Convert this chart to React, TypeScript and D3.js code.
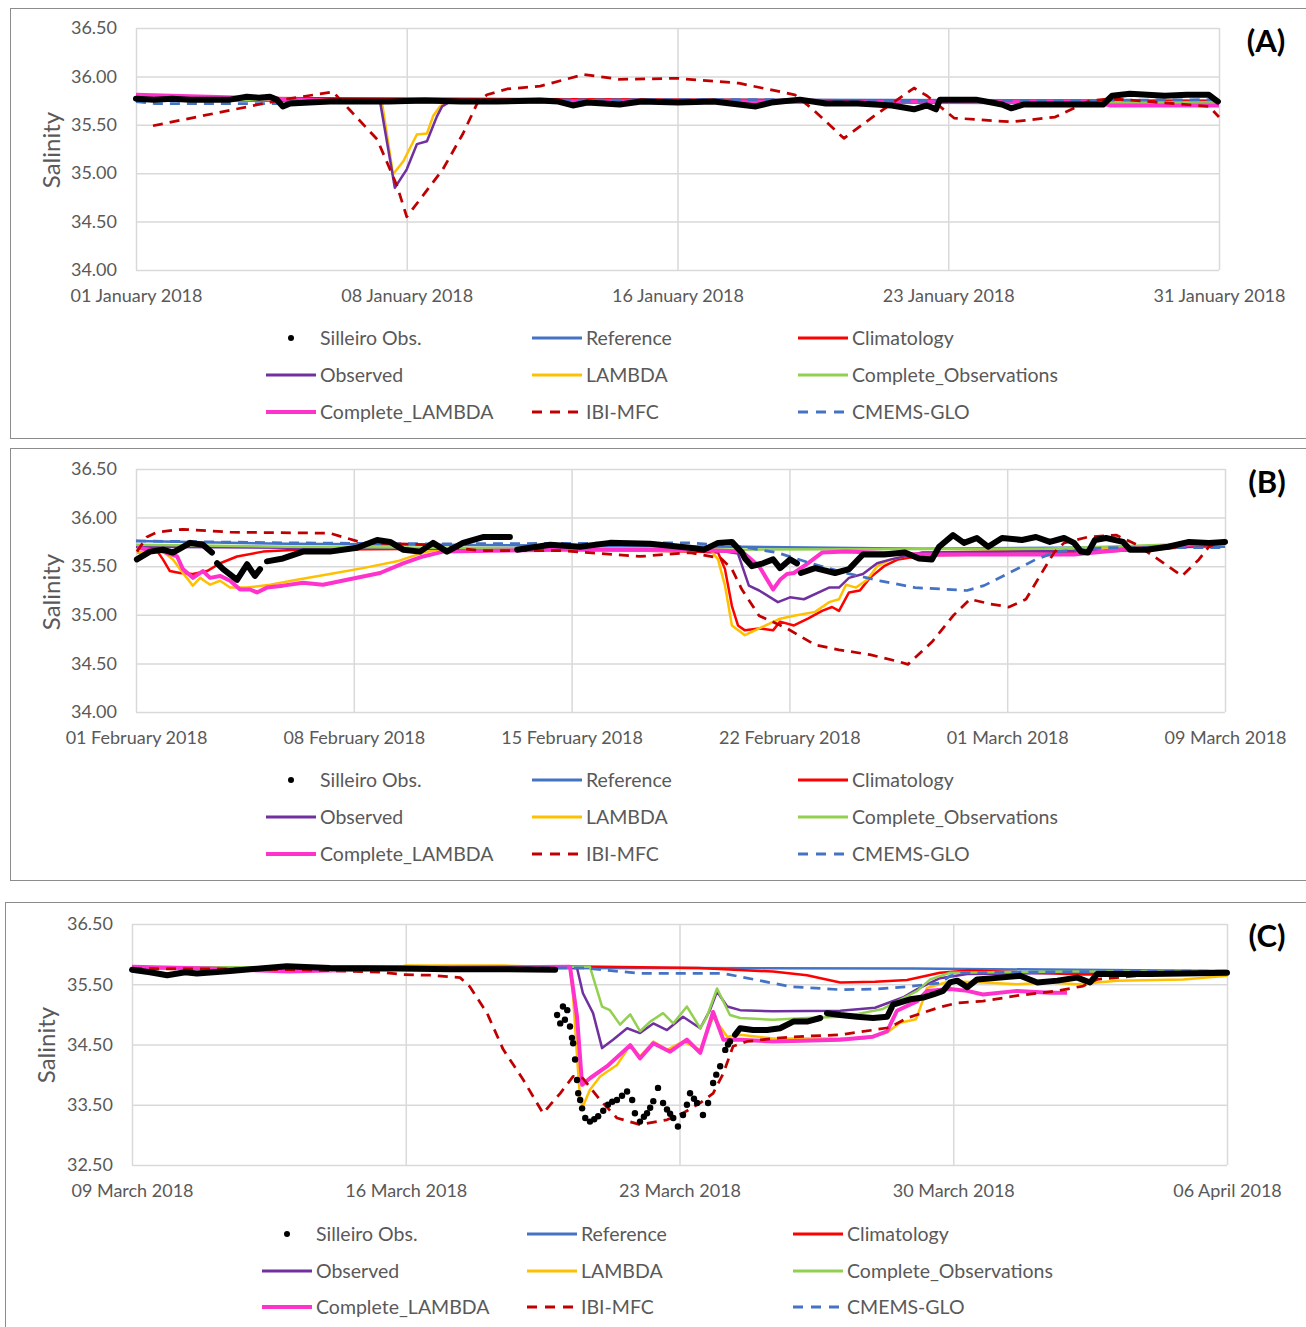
import React, { useEffect, useRef } from 'react'
import * as d3 from 'd3'

type Pt = [number, number | null]

const FONT = 'Lato, "Open Sans", sans-serif'

// ---------- panel A : January 2018 (x = days from 01 Jan) ----------
const ticksA = ['01 January 2018', '08 January 2018', '16 January 2018', '23 January 2018', '31 January 2018']

const obsA: Pt[] = [[0, 35.77], [0.5, 35.76], [1, 35.77], [1.5, 35.76], [2, 35.76], [2.6, 35.76], [3.07, 35.79], [3.4, 35.78], [3.71, 35.79], [3.9, 35.76], [4.07, 35.69], [4.27, 35.72], [4.8, 35.73], [5.37, 35.74], [6, 35.74], [7, 35.74], [8, 35.75], [9, 35.74], [10, 35.74], [11.19, 35.75], [11.7, 35.74], [12.1, 35.70], [12.5, 35.73], [13.4, 35.71], [14, 35.74], [15, 35.73], [16, 35.74], [17.17, 35.69], [17.6, 35.73], [18.39, 35.76], [19.11, 35.72], [20, 35.72], [20.94, 35.70], [21.55, 35.66], [21.91, 35.70], [22.16, 35.66], [22.27, 35.76], [23.27, 35.76], [23.99, 35.71], [24.24, 35.67], [24.6, 35.71], [25.5, 35.71], [26.79, 35.71], [27.04, 35.80], [27.53, 35.82], [28.5, 35.80], [29.11, 35.81], [29.72, 35.81], [29.97, 35.74]]
const referenceA: Pt[] = [[0, 35.77], [15, 35.76], [30, 35.75]]
const climatologyA: Pt[] = [[0, 35.78], [30, 35.74]]
const observedA: Pt[] = [[0, 35.76], [6.76, 35.74], [7.17, 34.85], [7.5, 35.04], [7.78, 35.30], [8.06, 35.33], [8.34, 35.59], [8.48, 35.69], [8.7, 35.74], [30, 35.72]]
const lambdaA: Pt[] = [[0, 35.76], [6.81, 35.74], [7.12, 34.99], [7.4, 35.12], [7.78, 35.40], [8.06, 35.41], [8.23, 35.59], [8.42, 35.69], [8.6, 35.74], [30, 35.73]]
const completeObsA: Pt[] = [[0, 35.76], [26, 35.73], [30, 35.72]]
const completeLambdaA: Pt[] = [[0, 35.81], [3, 35.78], [6, 35.74], [26.5, 35.74], [27, 35.70], [30, 35.70]]
const ibiA: Pt[] = [[0.47, 35.49], [4.07, 35.76], [5.46, 35.84], [5.93, 35.65], [6.68, 35.35], [7.23, 34.87], [7.5, 34.55], [7.87, 34.73], [8.5, 35.04], [9.06, 35.41], [9.45, 35.72], [9.72, 35.81], [10.28, 35.87], [11.2, 35.90], [12.41, 36.02], [13.38, 35.97], [15, 35.98], [16.7, 35.93], [18.25, 35.81], [18.75, 35.66], [19.61, 35.36], [20.44, 35.59], [21.55, 35.88], [21.91, 35.80], [22.66, 35.57], [24.24, 35.53], [25.46, 35.58], [26.42, 35.75], [27.04, 35.77], [29.72, 35.69], [30, 35.58]]
const cmemsA: Pt[] = [[0, 35.74], [0.5, 35.72], [4, 35.72], [4.5, 35.75], [15, 35.76], [18, 35.76], [20, 35.74], [30, 35.76]]

// ---------- panel B : 01 Feb - 09 Mar 2018 ----------
const ticksB = ['01 February 2018', '08 February 2018', '15 February 2018', '22 February 2018', '01 March 2018', '09 March 2018']

const obsB: Pt[] = [[0.03, 35.57], [0.46, 35.65], [0.89, 35.67], [1.22, 35.64], [1.79, 35.74], [2.21, 35.72], [2.51, 35.64], [2.6, null], [2.68, 35.53], [2.88, 35.47], [3.34, 35.36], [3.67, 35.52], [3.93, 35.40], [4.1, 35.47], [4.2, null], [4.33, 35.55], [4.86, 35.58], [5.52, 35.65], [6.41, 35.65], [7.31, 35.69], [7.97, 35.77], [8.4, 35.75], [8.83, 35.67], [9.39, 35.65], [9.82, 35.74], [10.28, 35.65], [10.81, 35.74], [11.47, 35.80], [12.36, 35.80], [12.5, null], [12.6, 35.67], [13.69, 35.72], [14.68, 35.70], [15.67, 35.74], [16.99, 35.73], [18.31, 35.69], [18.78, 35.67], [19.24, 35.74], [19.7, 35.75], [20.03, 35.64], [20.13, 35.58], [20.36, 35.50], [20.73, 35.53], [21.06, 35.57], [21.29, 35.48], [21.62, 35.57], [21.85, 35.53], [21.9, null], [21.98, 35.43], [22.45, 35.48], [23.11, 35.43], [23.57, 35.47], [24.03, 35.62], [24.73, 35.62], [25.42, 35.64], [25.88, 35.58], [26.31, 35.57], [26.55, 35.70], [27.01, 35.82], [27.37, 35.74], [27.8, 35.79], [28.17, 35.70], [28.63, 35.79], [29.29, 35.77], [29.75, 35.80], [30.21, 35.75], [30.68, 35.79], [31.01, 35.74], [31.24, 35.65], [31.47, 35.64], [31.7, 35.77], [32.07, 35.79], [32.63, 35.75], [32.86, 35.67], [33.42, 35.67], [34.12, 35.70], [34.81, 35.75], [35.47, 35.74], [36, 35.75]]
const referenceB: Pt[] = [[0, 35.76], [5, 35.73], [10, 35.72], [20, 35.70], [26, 35.68], [36, 35.70]]
const climatologyB: Pt[] = [[0.03, 35.64], [0.69, 35.66], [0.89, 35.57], [1.12, 35.45], [1.45, 35.43], [1.88, 35.42], [2.35, 35.45], [2.78, 35.53], [3.34, 35.60], [4.2, 35.65], [5.32, 35.67], [10, 35.68], [15, 35.67], [18.31, 35.65], [19.24, 35.64], [19.47, 35.47], [19.7, 35.09], [19.9, 34.89], [20.13, 34.84], [20.6, 34.86], [21.06, 34.84], [21.29, 34.93], [21.75, 34.89], [22.21, 34.96], [22.68, 35.04], [23.01, 35.08], [23.24, 35.04], [23.57, 35.23], [23.93, 35.25], [24.26, 35.38], [24.73, 35.50], [25.19, 35.57], [26, 35.61], [28, 35.62], [30, 35.63], [32, 35.65], [34, 35.68], [36, 35.73]]
const observedB: Pt[] = [[0, 35.70], [10, 35.68], [18.31, 35.67], [19.47, 35.65], [19.9, 35.63], [20.26, 35.30], [20.6, 35.25], [21.22, 35.13], [21.62, 35.18], [22.08, 35.16], [22.91, 35.28], [23.24, 35.28], [23.57, 35.38], [24.03, 35.42], [24.5, 35.53], [24.96, 35.57], [26, 35.64], [32, 35.66], [36, 35.74]]
const lambdaB: Pt[] = [[0.03, 35.64], [0.89, 35.65], [1.22, 35.57], [1.55, 35.43], [1.88, 35.30], [2.12, 35.38], [2.45, 35.31], [2.78, 35.35], [3.11, 35.28], [3.67, 35.28], [4.43, 35.31], [5.32, 35.36], [6.41, 35.42], [7.5, 35.48], [8.63, 35.55], [9.49, 35.64], [9.95, 35.67], [14, 35.67], [18.31, 35.66], [19.01, 35.66], [19.24, 35.57], [19.47, 35.30], [19.7, 34.89], [20.13, 34.79], [20.6, 34.86], [21.29, 34.96], [21.75, 34.99], [22.45, 35.03], [22.91, 35.13], [23.24, 35.16], [23.47, 35.31], [23.8, 35.28], [24.17, 35.36], [24.5, 35.50], [24.96, 35.57], [26, 35.64], [30, 35.66], [33, 35.68], [36, 35.75]]
const completeObsB: Pt[] = [[0, 35.72], [5, 35.70], [10, 35.69], [18, 35.68], [20, 35.67], [30, 35.68], [32, 35.70], [36, 35.74]]
const completeLambdaB: Pt[] = [[0.03, 35.69], [0.89, 35.65], [1.36, 35.60], [1.55, 35.47], [1.88, 35.38], [2.21, 35.45], [2.45, 35.38], [2.78, 35.40], [3.11, 35.35], [3.44, 35.26], [3.77, 35.26], [4, 35.23], [4.33, 35.28], [4.86, 35.30], [5.52, 35.33], [6.18, 35.31], [6.98, 35.36], [8.07, 35.43], [8.83, 35.53], [9.49, 35.60], [10.15, 35.65], [14, 35.67], [18.31, 35.67], [20.03, 35.65], [20.6, 35.50], [21.06, 35.26], [21.29, 35.36], [21.52, 35.42], [21.75, 35.43], [22.21, 35.53], [22.68, 35.64], [23.47, 35.65], [26, 35.62], [31, 35.62], [33, 35.68], [36, 35.75]]
const ibiB: Pt[] = [[0.03, 35.65], [0.36, 35.80], [0.69, 35.85], [1.55, 35.88], [3.11, 35.85], [6.41, 35.84], [6.84, 35.80], [7.5, 35.74], [9.72, 35.72], [11.37, 35.66], [14.02, 35.66], [16.66, 35.60], [18.31, 35.64], [19.34, 35.58], [19.7, 35.47], [20.03, 35.26], [20.6, 34.99], [21.52, 34.86], [22.45, 34.69], [23.24, 34.64], [24.26, 34.59], [25.19, 34.52], [25.52, 34.49], [26.31, 34.72], [27.01, 34.99], [27.57, 35.16], [28.26, 35.11], [28.86, 35.08], [29.42, 35.16], [29.88, 35.40], [30.35, 35.64], [30.68, 35.74], [31.47, 35.80], [32.4, 35.82], [33.09, 35.72], [34.12, 35.50], [34.58, 35.40], [35.14, 35.57], [35.47, 35.70], [36, 35.77]]
const cmemsB: Pt[] = [[0, 35.76], [5, 35.74], [10, 35.73], [18.31, 35.74], [20.03, 35.70], [21.19, 35.64], [22.31, 35.53], [23.47, 35.43], [24.6, 35.35], [25.75, 35.28], [27.47, 35.25], [28.03, 35.30], [28.86, 35.43], [29.75, 35.57], [30.45, 35.65], [32.07, 35.69], [36, 35.69]]

// ---------- panel C : 09 Mar - 06 Apr 2018 ----------
const ticksC = ['09 March 2018', '16 March 2018', '23 March 2018', '30 March 2018', '06 April 2018']

const obsC: Pt[] = [[0, 35.74], [0.46, 35.70], [0.9, 35.65], [1.36, 35.70], [1.66, 35.68], [2.51, 35.72], [3.96, 35.80], [5.06, 35.77], [6.85, 35.76], [8.13, 35.75], [9.41, 35.75], [10.82, 35.74], [10.85, null], [15.42, 34.66], [15.55, 34.77], [15.88, 34.74], [16.24, 34.74], [16.57, 34.77], [16.91, 34.88], [17.26, 34.88], [17.6, 34.94], [17.7, null], [17.77, 35.02], [18.11, 34.99], [18.54, 34.96], [18.95, 34.94], [19.31, 34.96], [19.46, 35.16], [19.9, 35.25], [20.23, 35.28], [20.49, 35.33], [20.74, 35.39], [20.92, 35.53], [21.1, 35.56], [21.36, 35.45], [21.61, 35.58], [22.2, 35.61], [22.71, 35.64], [23.15, 35.53], [23.66, 35.56], [24.17, 35.61], [24.5, 35.53], [24.68, 35.67], [25.19, 35.67], [26.04, 35.67], [26.88, 35.68], [28, 35.69]]
const obsScatterC: Pt[] = [[10.87, 34.99], [10.95, 34.85], [11.02, 35.13], [11.07, 34.91], [11.13, 35.07], [11.2, 34.80], [11.25, 34.61], [11.28, 34.52], [11.33, 34.25], [11.38, 33.91], [11.41, 33.69], [11.46, 33.58], [11.51, 33.44], [11.59, 33.28], [11.71, 33.22], [11.82, 33.26], [11.92, 33.31], [12.05, 33.40], [12.17, 33.50], [12.28, 33.55], [12.4, 33.58], [12.53, 33.65], [12.66, 33.72], [12.79, 33.58], [12.86, 33.36], [12.99, 33.22], [13.09, 33.30], [13.17, 33.36], [13.25, 33.45], [13.33, 33.56], [13.45, 33.78], [13.58, 33.53], [13.68, 33.42], [13.76, 33.35], [13.84, 33.28], [13.96, 33.14], [14.09, 33.33], [14.19, 33.50], [14.27, 33.69], [14.37, 33.60], [14.45, 33.53], [14.6, 33.33], [14.73, 33.53], [14.86, 33.86], [14.94, 34.00], [15.04, 34.14], [15.17, 34.41], [15.24, 34.50], [15.29, 34.55]]
const referenceC: Pt[] = [[0, 35.76], [14, 35.77], [20, 35.76], [28, 35.72]]
const climatologyC: Pt[] = [[0, 35.78], [10, 35.79], [11, 35.80], [14.5, 35.77], [16.39, 35.71], [17.26, 35.65], [18.11, 35.53], [19, 35.54], [19.82, 35.57], [20.66, 35.69], [21.4, 35.73], [24.32, 35.66], [28, 35.68]]
const observedC: Pt[] = [[0, 35.78], [10, 35.79], [11.38, 35.77], [11.53, 35.35], [11.79, 35.02], [12.02, 34.44], [12.3, 34.58], [12.66, 34.77], [12.99, 34.69], [13.33, 34.85], [13.68, 34.74], [14.09, 34.96], [14.53, 34.77], [14.78, 35.07], [14.96, 35.38], [15.22, 35.13], [15.55, 35.07], [16.39, 35.05], [18.11, 35.06], [19, 35.11], [19.71, 35.28], [20.08, 35.42], [20.66, 35.60], [21.36, 35.67], [24, 35.69], [28, 35.71]]
const lambdaC: Pt[] = [[0, 35.77], [6.8, 35.78], [7, 35.81], [9.5, 35.81], [10.5, 35.79], [11.2, 35.79], [11.28, 35.30], [11.38, 34.30], [11.46, 33.58], [11.53, 33.47], [11.71, 33.75], [11.97, 33.97], [12.4, 34.16], [12.74, 34.49], [12.99, 34.30], [13.33, 34.55], [13.68, 34.41], [14.09, 34.55], [14.53, 34.41], [14.86, 34.96], [15.22, 34.63], [15.55, 34.66], [16.39, 34.60], [18.11, 34.60], [18.7, 34.60], [19.31, 34.70], [19.64, 34.86], [20.05, 34.92], [20.15, 35.10], [20.33, 35.44], [20.92, 35.55], [21.76, 35.53], [22.63, 35.50], [23.47, 35.53], [24.17, 35.50], [25.19, 35.56], [26.88, 35.58], [28, 35.64]]
const completeObsC: Pt[] = [[0, 35.78], [10, 35.79], [11.71, 35.79], [12.02, 35.13], [12.22, 35.07], [12.48, 34.83], [12.74, 35.00], [12.99, 34.72], [13.25, 34.88], [13.58, 35.02], [13.84, 34.85], [14.19, 35.13], [14.53, 34.77], [14.7, 34.96], [14.96, 35.43], [15.29, 34.99], [15.55, 34.94], [16.39, 34.91], [17.26, 34.94], [18.11, 34.96], [18.5, 35.00], [19.2, 35.09], [20.08, 35.39], [20.41, 35.58], [20.92, 35.69], [24, 35.71], [28, 35.71]]
const completeLambdaC: Pt[] = [[0, 35.79], [2, 35.76], [4, 35.71], [5, 35.73], [8, 35.77], [11.2, 35.79], [11.38, 34.96], [11.51, 33.83], [11.71, 33.94], [12.15, 34.14], [12.74, 34.49], [12.99, 34.27], [13.33, 34.52], [13.76, 34.38], [14.19, 34.58], [14.53, 34.36], [14.86, 35.04], [15.12, 34.58], [15.55, 34.58], [16.39, 34.55], [18.11, 34.58], [18.95, 34.63], [19.31, 34.72], [19.56, 35.06], [20.08, 35.22], [20.33, 35.39], [20.92, 35.42], [21.36, 35.39], [21.76, 35.33], [22.63, 35.39], [23.47, 35.36], [23.91, 35.36]]
const ibiC: Pt[] = [[0, 35.76], [4.3, 35.74], [6.34, 35.70], [6.93, 35.66], [7.62, 35.65], [8.39, 35.61], [8.64, 35.46], [9.08, 35.02], [9.49, 34.42], [10, 33.92], [10.51, 33.36], [10.95, 33.69], [11.28, 33.97], [11.53, 33.94], [11.97, 33.58], [12.4, 33.28], [12.99, 33.17], [13.68, 33.25], [14.09, 33.36], [14.53, 33.53], [14.86, 33.69], [15.12, 34.02], [15.37, 34.47], [15.73, 34.55], [16.39, 34.60], [17.26, 34.64], [18.11, 34.66], [18.95, 34.74], [19.36, 34.78], [19.82, 34.94], [20.66, 35.12], [21.1, 35.19], [21.76, 35.22], [22.63, 35.31], [23.66, 35.39], [24.32, 35.47], [24.68, 35.58], [26.04, 35.66], [28, 35.70]]
const cmemsC: Pt[] = [[0, 35.76], [10, 35.77], [11.53, 35.77], [12.99, 35.68], [15.12, 35.68], [15.99, 35.57], [16.83, 35.46], [18.11, 35.41], [19, 35.42], [19.82, 35.46], [20.66, 35.52], [20.92, 35.64], [21.25, 35.69], [24.32, 35.71], [28, 35.72]]

// legend entries, three per row
const legendLabels = ['Silleiro Obs.', 'Reference', 'Climatology', 'Observed', 'LAMBDA', 'Complete_Observations', 'Complete_LAMBDA', 'IBI-MFC', 'CMEMS-GLO']
const legendKeys = ['obs', 'reference', 'climatology', 'observed', 'lambda', 'completeObs', 'completeLambda', 'ibi', 'cmems']

const styles: Record<string, { color: string, width: number, dash?: string }> = {
  reference: { color: '#4472C4', width: 2.5 },
  climatology: { color: '#FF0000', width: 2.5 },
  observed: { color: '#7030A0', width: 2.5 },
  lambda: { color: '#FFC000', width: 2.5 },
  completeObs: { color: '#92D050', width: 2.5 },
  completeLambda: { color: '#FF33CC', width: 4 },
  ibi: { color: '#C00000', width: 2.75, dash: '10,7' },
  cmems: { color: '#4472C4', width: 2.75, dash: '10,7' }
}
// drawing order (last on top)
const drawOrder = ['reference', 'climatology', 'lambda', 'observed', 'completeObs', 'completeLambda', 'cmems', 'ibi']

const panels = [
  {
    tag: '(A)', days: 30, xTicks: [0, 7.5, 15, 22.5, 30], xLabels: ticksA,
    yDomain: [34, 36.5], yTicks: [34, 34.5, 35, 35.5, 36, 36.5],
    frame: [10, 8, 1296, 430], plot: { left: 136, right: 1219, top: 28, bottom: 270 },
    ylab: [52, 150], tagPos: [1266, 41],
    legend: { rows: [338, 375, 412], cols: [266, 532, 798] },
    series: { obs: obsA, reference: referenceA, climatology: climatologyA, observed: observedA, lambda: lambdaA, completeObs: completeObsA, completeLambda: completeLambdaA, ibi: ibiA, cmems: cmemsA },
    scatter: [] as Pt[]
  },
  {
    tag: '(B)', days: 36, xTicks: [0, 7.2, 14.4, 21.6, 28.8, 36], xLabels: ticksB,
    yDomain: [34, 36.5], yTicks: [34, 34.5, 35, 35.5, 36, 36.5],
    frame: [10, 448, 1296, 432], plot: { left: 136, right: 1225, top: 469, bottom: 712 },
    ylab: [52, 592], tagPos: [1267, 482],
    legend: { rows: [780, 817, 854], cols: [266, 532, 798] },
    series: { obs: obsB, reference: referenceB, climatology: climatologyB, observed: observedB, lambda: lambdaB, completeObs: completeObsB, completeLambda: completeLambdaB, ibi: ibiB, cmems: cmemsB },
    scatter: [] as Pt[]
  },
  {
    tag: '(C)', days: 28, xTicks: [0, 7, 14, 21, 28], xLabels: ticksC,
    yDomain: [32.5, 36.5], yTicks: [32.5, 33.5, 34.5, 35.5, 36.5],
    frame: [5, 902, 1301, 440], plot: { left: 132, right: 1227, top: 924, bottom: 1165 },
    ylab: [47, 1045], tagPos: [1267, 936],
    legend: { rows: [1234, 1271, 1307], cols: [262, 527, 793] },
    series: { obs: obsC, reference: referenceC, climatology: climatologyC, observed: observedC, lambda: lambdaC, completeObs: completeObsC, completeLambda: completeLambdaC, ibi: ibiC, cmems: cmemsC },
    scatter: obsScatterC
  }
]

function drawPanel (svg: any, p: any) {
  const { left, right, top, bottom } = p.plot
  const x = d3.scaleLinear().domain([0, p.days]).range([left, right])
  const y = d3.scaleLinear().domain(p.yDomain).range([bottom, top])
  const g = svg.append('g').attr('font-family', FONT)

  // outer frame of the chart
  g.append('rect')
    .attr('x', p.frame[0] + 0.5).attr('y', p.frame[1] + 0.5)
    .attr('width', p.frame[2]).attr('height', p.frame[3])
    .attr('fill', '#fff').attr('stroke', '#8c8c8c').attr('stroke-width', 1)

  // y axis + horizontal gridlines
  g.append('g')
    .attr('transform', 'translate(' + left + ',0)')
    .call(d3.axisLeft(y).tickValues(p.yTicks).tickFormat(d3.format('.2f')).tickSize(-(right - left)).tickPadding(19))
    .call((a: any) => {
      a.select('.domain').remove()
      a.selectAll('line').attr('stroke', '#d9d9d9').attr('stroke-width', 1.5)
      a.selectAll('text').attr('fill', '#595959').attr('font-size', 18).attr('font-family', FONT)
    })

  // x axis + vertical gridlines
  g.append('g')
    .attr('transform', 'translate(0,' + bottom + ')')
    .call(d3.axisBottom(x).tickValues(p.xTicks).tickFormat((d: any, i: number) => p.xLabels[i]).tickSize(-(bottom - top)).tickPadding(19))
    .call((a: any) => {
      a.select('.domain').remove()
      a.selectAll('line').attr('stroke', '#d9d9d9').attr('stroke-width', 1.5)
      a.selectAll('text').attr('fill', '#595959').attr('font-size', 18).attr('font-family', FONT)
    })

  // y axis title
  g.append('text')
    .attr('transform', 'translate(' + p.ylab[0] + ',' + p.ylab[1] + ') rotate(-90)')
    .attr('text-anchor', 'middle').attr('dy', '0.35em')
    .attr('font-size', 24).attr('fill', '#595959')
    .text('Salinity')

  // panel tag
  g.append('text')
    .attr('x', p.tagPos[0]).attr('y', p.tagPos[1])
    .attr('text-anchor', 'middle').attr('dy', '0.35em')
    .attr('font-size', 31).attr('font-weight', 'bold').attr('fill', '#000')
    .text(p.tag)

  const line = d3.line<Pt>()
    .defined((d) => d[1] !== null)
    .x((d) => x(d[0]))
    .y((d) => y(d[1] as number))

  // model series
  drawOrder.forEach((key) => {
    const s = styles[key]
    g.append('path')
      .datum(p.series[key])
      .attr('d', line)
      .attr('fill', 'none')
      .attr('stroke', s.color)
      .attr('stroke-width', s.width)
      .attr('stroke-dasharray', s.dash || null)
      .attr('stroke-linejoin', 'round')
  })

  // observations: dense hourly dots drawn as a thick line, sparse ones as dots
  g.append('path')
    .datum(p.series.obs)
    .attr('d', line)
    .attr('fill', 'none')
    .attr('stroke', '#000')
    .attr('stroke-width', 6)
    .attr('stroke-linejoin', 'round')
    .attr('stroke-linecap', 'round')

  g.selectAll('.obsdot')
    .data(p.scatter)
    .enter()
    .append('circle')
    .attr('class', 'obsdot')
    .attr('cx', (d: Pt) => x(d[0]))
    .attr('cy', (d: Pt) => y(d[1] as number))
    .attr('r', 3.2)
    .attr('fill', '#000')

  // legend
  legendKeys.forEach((key, i) => {
    const cy = p.legend.rows[Math.floor(i / 3)]
    const cx = p.legend.cols[i % 3]
    if (key === 'obs') {
      g.append('circle').attr('cx', cx + 25).attr('cy', cy).attr('r', 3).attr('fill', '#000')
    } else {
      const s = styles[key]
      g.append('line')
        .attr('x1', cx).attr('x2', cx + 50).attr('y1', cy).attr('y2', cy)
        .attr('stroke', s.color).attr('stroke-width', key === 'completeLambda' ? 4 : 3)
        .attr('stroke-dasharray', s.dash ? '10,8' : null)
    }
    g.append('text')
      .attr('x', cx + 54).attr('y', cy).attr('dy', '0.35em')
      .attr('font-size', 19.5).attr('fill', '#595959')
      .text(legendLabels[i])
  })
}

export default function App () {
  const ref = useRef<SVGSVGElement>(null)

  useEffect(() => {
    const svg = d3.select(ref.current)
    svg.selectAll('*').remove()
    panels.forEach((p) => drawPanel(svg, p))
  }, [])

  return (
    <svg ref={ref} width={1306} height={1327} style={{ position: 'absolute', left: 0, top: 0, background: '#fff' }} />
  )
}
